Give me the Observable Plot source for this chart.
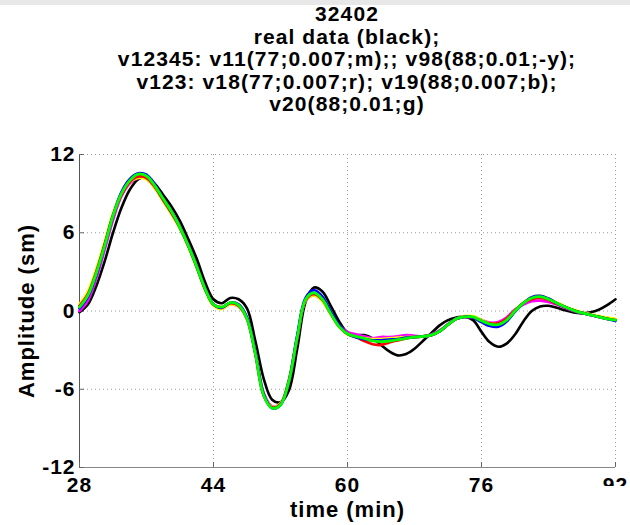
<!DOCTYPE html>
<html>
<head>
<meta charset="utf-8">
<script src="https://cdn.jsdelivr.net/npm/d3@7"></script>
<script src="https://cdn.jsdelivr.net/npm/@observablehq/plot@0.6"></script>
<style>
  html, body { margin: 0; padding: 0; background: #fff; width: 630px; height: 525px; overflow: hidden; }
  #wrap { position: relative; width: 630px; height: 525px; }
  #bar { position: absolute; left: 0; top: 0; width: 630px; height: 5px; background: #e8e8e8; z-index: 2; }
  #title { position: absolute; left: 49px; top: 3px; width: 596px; text-align: center;
    font-family: "Liberation Sans", Arial, sans-serif; font-weight: bold; font-size: 21px; line-height: 22.6px;
    color: #000; letter-spacing: 1.1px; white-space: nowrap; }
  #chart { position: absolute; left: 0; top: 115px; }
  #chart svg text { font-family: "Liberation Sans", Arial, sans-serif; font-weight: bold; letter-spacing: 1px; }
  #clip92 { position: absolute; left: 596px; top: 486px; width: 34px; height: 10px; background: #fff; z-index: 3; }
</style>
</head>
<body>
<div id="wrap">
  <div id="bar"></div>
  <div id="title"></div>
  <div id="chart"></div>
  <div id="clip92"></div>
</div>
<script>
const titleLines = [
  "32402",
  "real data (black);",
  "v12345: v11(77;0.007;m);; v98(88;0.01;-y);",
  "v123: v18(77;0.007;r); v19(88;0.007;b);",
  "v20(88;0.01;g)"
];
const xLabel = "time (min)";
const yLabel = "Amplitude (sm)";
const xTicks = [28, 44, 60, 76, 92];
const yTicks = [-12, -6, 0, 6, 12];

const time = [28,29,30,31,32,33,34,35,36,37,38,39,40,41,42,43,44,45,46,47,48,49,50,51,52,53,54,55,56,57,58,59,60,
  61,62,63,64,65,66,67,68,69,70,71,72,73,74,75,76,77,78,79,80,81,82,83,84,85,86,87,88,89,90,91,92];

const realData = [-0.1,0.5,1.9,3.8,6.0,7.9,9.3,10.1,10.25,9.75,8.9,8.0,6.9,5.5,4.0,2.2,0.9,0.6,1.0,0.9,0.2,-2.3,-5.2,-6.8,-7.0,-6.1,-2.9,0.7,1.8,1.5,0.4,-0.8,-1.67,
  -1.85,-1.85,-2.1,-2.6,-3.1,-3.4,-3.3,-2.9,-2.3,-1.7,-1.1,-0.7,-0.5,-0.43,-0.7,-1.6,-2.4,-2.74,-2.5,-1.8,-0.8,0.0,0.35,0.4,0.25,0.05,-0.12,-0.18,-0.1,0.1,0.45,0.9];

const v11 = [0.0,0.8,2.5,4.7,7.0,8.8,9.8,10.2,10.15,9.5,8.5,7.5,6.4,5.0,3.4,1.7,0.5,0.2,0.5,0.35,-0.6,-3.2,-6.3,-7.3,-7.1,-5.3,-2.0,0.8,1.2,0.8,-0.2,-1.1,-1.6,
  -1.8,-1.95,-2.1,-2.0,-2.0,-1.95,-1.85,-1.9,-1.95,-1.8,-1.5,-1.0,-0.6,-0.45,-0.5,-0.7,-0.9,-0.85,-0.5,0.1,0.5,0.75,0.8,0.7,0.5,0.25,0.0,-0.15,-0.3,-0.45,-0.55,-0.65];

const v98 = [0.5,1.5,3.2,5.3,7.5,9.0,9.9,10.2,10.1,9.4,8.4,7.4,6.3,4.9,3.3,1.6,0.4,0.15,0.5,0.35,-0.6,-3.2,-6.4,-7.35,-7.1,-5.3,-2.0,0.8,1.2,0.75,-0.25,-1.2,-1.8,
  -2.0,-2.1,-2.15,-2.15,-2.1,-2.05,-2.0,-2.0,-1.95,-1.85,-1.55,-1.05,-0.6,-0.4,-0.4,-0.7,-0.95,-1.0,-0.65,0.05,0.65,1.05,1.15,0.95,0.65,0.35,0.1,-0.1,-0.25,-0.4,-0.5,-0.6];

const v18 = [0.4,1.3,3.0,5.1,7.3,8.9,9.9,10.3,10.2,9.5,8.5,7.5,6.4,5.0,3.4,1.7,0.5,0.3,0.6,0.4,-0.6,-3.3,-6.5,-7.4,-7.15,-5.4,-2.0,0.85,1.3,0.85,-0.2,-1.2,-1.75,
  -2.0,-2.3,-2.55,-2.6,-2.4,-2.25,-2.1,-2.0,-1.95,-1.85,-1.55,-1.05,-0.6,-0.45,-0.5,-0.75,-0.95,-0.95,-0.6,0.05,0.6,0.9,1.0,0.85,0.55,0.3,0.05,-0.15,-0.3,-0.45,-0.6,-0.7];

const v19 = [0.2,1.1,2.8,5.0,7.3,9.1,10.1,10.55,10.45,9.7,8.6,7.6,6.4,5.0,3.4,1.7,0.5,0.25,0.65,0.5,-0.5,-3.2,-6.4,-7.45,-7.2,-5.4,-1.9,1.0,1.6,1.1,-0.05,-1.1,-1.75,
  -2.0,-2.15,-2.25,-2.25,-2.2,-2.15,-2.05,-2.0,-1.95,-1.85,-1.55,-1.05,-0.6,-0.45,-0.5,-0.85,-1.15,-1.2,-0.8,-0.05,0.6,1.05,1.15,0.95,0.6,0.3,0.05,-0.15,-0.3,-0.45,-0.6,-0.75];

const v20 = [0.3,1.2,2.9,5.0,7.3,9.0,10.0,10.5,10.35,9.6,8.6,7.6,6.4,5.0,3.4,1.7,0.5,0.3,0.65,0.45,-0.6,-3.3,-6.5,-7.45,-7.2,-5.4,-2.0,0.9,1.4,0.9,-0.2,-1.2,-1.75,
  -1.95,-2.1,-2.3,-2.35,-2.3,-2.2,-2.1,-2.0,-1.95,-1.85,-1.55,-1.05,-0.6,-0.45,-0.45,-0.75,-1.0,-1.05,-0.7,0.0,0.6,1.0,1.1,0.9,0.6,0.3,0.05,-0.15,-0.3,-0.45,-0.6,-0.7];

const seriesNames = ["real", "v11", "v98", "v18", "v19", "v20"];
const seriesValues = [realData, v11, v98, v18, v19, v20];
const seriesColors = ["#000000", "#ff00ff", "#ffff00", "#ff0000", "#0000ff", "#00ff00"];

document.getElementById("title").innerHTML = titleLines.map(s => `<div>${s}</div>`).join("");

const rows = [];
seriesNames.forEach((name, i) => {
  time.forEach((t, j) => rows.push({series: name, t, v: seriesValues[i][j]}));
});

const lineMarks = seriesNames.map((name, i) =>
  Plot.line(rows.filter(d => d.series === name), {
    x: "t", y: "v", stroke: seriesColors[i], strokeWidth: i === 0 ? 2.6 : 2.8, curve: "catmull-rom"
  })
);

const fmt = d => String(d).replace("\u2212", "-");

const chart = Plot.plot({
  width: 630,
  height: 410,
  marginTop: 39,
  marginBottom: 58,
  marginLeft: 79,
  marginRight: 15,
  style: { fontFamily: "Liberation Sans, Arial, sans-serif", fontWeight: "bold", fontSize: "21px", color: "#000", background: "#fff", overflow: "visible" },
  x: { domain: [28, 92], ticks: xTicks },
  y: { domain: [-12, 12], ticks: yTicks },
  marks: [
    Plot.gridX(xTicks, { stroke: "#9a9a9a", strokeOpacity: 1, strokeDasharray: "1,3" }),
    Plot.gridY(yTicks, { stroke: "#9a9a9a", strokeOpacity: 1, strokeDasharray: "1,3" }),
    Plot.ruleX([28], { stroke: "#555" }),
    Plot.ruleY([-12], { stroke: "#888" }),
    Plot.axisX(xTicks, { tickSize: -5, tickPadding: 15, stroke: "#666", fontSize: 21, fontWeight: "bold", fill: "#000",
      tickFormat: fmt, label: xLabel, labelAnchor: "center", labelArrow: "none", labelOffset: 49 }),
    Plot.axisY(yTicks, { tickSize: -5, tickPadding: 9, stroke: "#666", fontSize: 21, fontWeight: "bold", fill: "#000",
      tickFormat: fmt, label: yLabel, labelAnchor: "center", labelArrow: "none", labelOffset: 61 }),
    ...lineMarks
  ]
});
document.getElementById("chart").appendChild(chart);
chart.querySelectorAll("g[aria-label='x-axis label'] text, g[aria-label='y-axis label'] text").forEach(t => { t.style.fontSize = "22px"; });
</script>
</body>
</html>
